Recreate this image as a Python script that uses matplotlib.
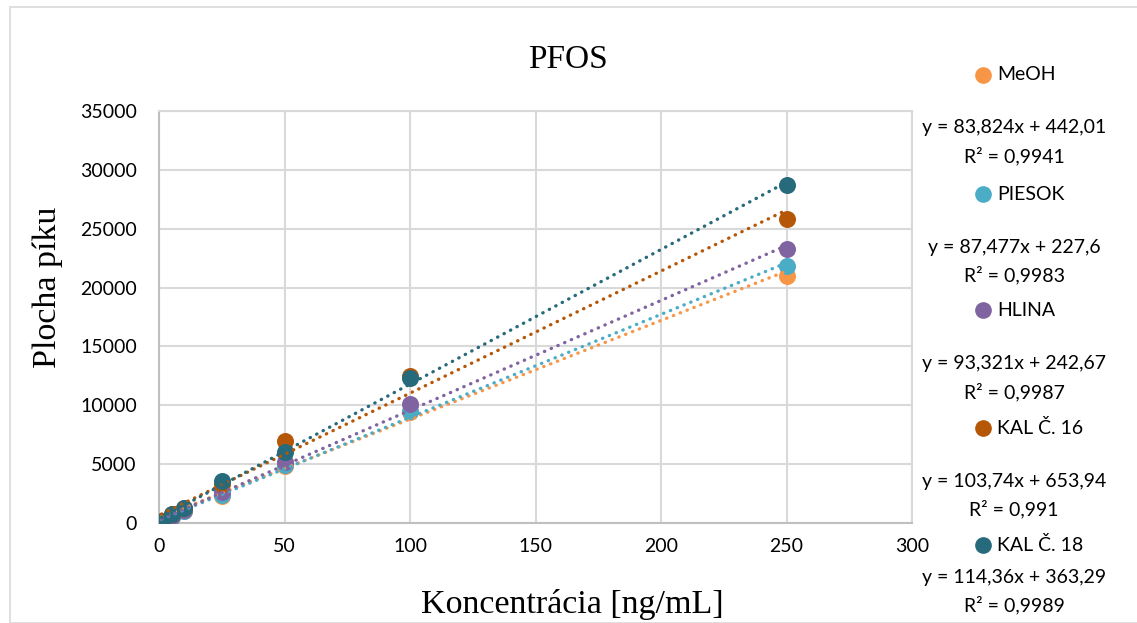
import matplotlib
matplotlib.use('Agg')
import matplotlib.pyplot as plt
import numpy as np
from matplotlib.patches import Rectangle

# Concentrations (ng/mL)
conc = [1, 5, 10, 25, 50, 100, 250]

series_names = ['MeOH', 'PIESOK', 'HLINA', 'KAL Č. 16', 'KAL Č. 18']
meoh = [100, 500, 1000, 2300, 4800, 9400, 20950]
piesok = [100, 500, 1000, 2400, 4900, 9500, 21850]
hlina = [120, 600, 1100, 2600, 5200, 10100, 23300]
kal16 = [150, 800, 1300, 3300, 7000, 12500, 25850]
kal18 = [150, 800, 1300, 3600, 6000, 12300, 28700]
values = [meoh, piesok, hlina, kal16, kal18]

slopes = [83.824, 87.477, 93.321, 103.74, 114.36]
intercepts = [442.01, 227.6, 242.67, 653.94, 363.29]
equations = ['y = 83,824x + 442,01', 'y = 87,477x + 227,6', 'y = 93,321x + 242,67',
             'y = 103,74x + 653,94', 'y = 114,36x + 363,29']
r2_labels = ['R² = 0,9941', 'R² = 0,9983', 'R² = 0,9987', 'R² = 0,991', 'R² = 0,9989']

colors = ['#F79646', '#4BACC6', '#8064A2', '#B65708', '#276A7C']

SANS = 'Lato'
SERIF = 'Liberation Serif'

fig = plt.figure(figsize=(11.37, 6.23), dpi=100)
ax = fig.add_axes([159 / 1137, 1 - 523 / 623, (912 - 159) / 1137, (523 - 111) / 623])

grid_c = '#D9D9D9'
for i, name in enumerate(series_names):
    ax.scatter(conc, values[i], s=150, color=colors[i], zorder=3 + i * 0.1, linewidths=0)
    xs = np.array([min(conc), max(conc)])
    ax.plot(xs, slopes[i] * xs + intercepts[i], color=colors[i], linewidth=2.4,
            linestyle=(0, (0.1, 2.1)), dash_capstyle='round', zorder=4 + i * 0.1)

ax.set_xlim(0, 300)
ax.set_ylim(0, 35000)
ax.set_xticks(range(0, 301, 50))
ax.set_yticks(range(0, 35001, 5000))
ax.grid(True, color=grid_c, linewidth=1.5)
ax.set_axisbelow(True)
for sp in ax.spines.values():
    sp.set_color(grid_c)
    sp.set_linewidth(1.5)
ax.spines['left'].set_color('#BFBFBF')
ax.spines['bottom'].set_color('#BFBFBF')
ax.tick_params(length=0, labelsize=14, colors='#000000')
ax.tick_params(axis='y', pad=16)
ax.tick_params(axis='x', pad=11)
for lab in ax.get_xticklabels() + ax.get_yticklabels():
    lab.set_family(SANS)

fig.text(568 / 1137, 1 - 60 / 623, 'PFOS', ha='center', va='center',
         family=SERIF, fontsize=24)
fig.text(48 / 1137, 1 - 287 / 623, 'Plocha píku', ha='center', va='center', rotation=90,
         family=SERIF, fontsize=24.5)
fig.text(572 / 1137, 1 - 604 / 623, 'Koncentrácia [ng/mL]', ha='center', va='center',
         family=SERIF, fontsize=24.5)

# legend with trendline equations
label_y = [75, 194, 310, 428, 545]
eq_y = [128, 247, 364, 481, 577]
for i, name in enumerate(series_names):
    fig.lines.append(plt.Line2D([983 / 1137], [1 - label_y[i] / 623], marker='o',
                                markersize=11, color=colors[i], linestyle='none',
                                transform=fig.transFigure))
    fig.text(997 / 1137, 1 - label_y[i] / 623, name, ha='left', va='center',
             family=SANS, fontsize=14)
    fig.text(1014 / 1137, 1 - eq_y[i] / 623, equations[i], ha='center', va='center',
             family=SANS, fontsize=14)
    fig.text(1014 / 1137, 1 - (eq_y[i] + 28) / 623, r2_labels[i], ha='center', va='center',
             family=SANS, fontsize=14)

fig.patches.append(Rectangle((10 / 1137, 0), 1.1, 1 - 7 / 623, transform=fig.transFigure,
                             fill=False, edgecolor=grid_c, linewidth=1.2))

fig.savefig('out.png', dpi=100)
